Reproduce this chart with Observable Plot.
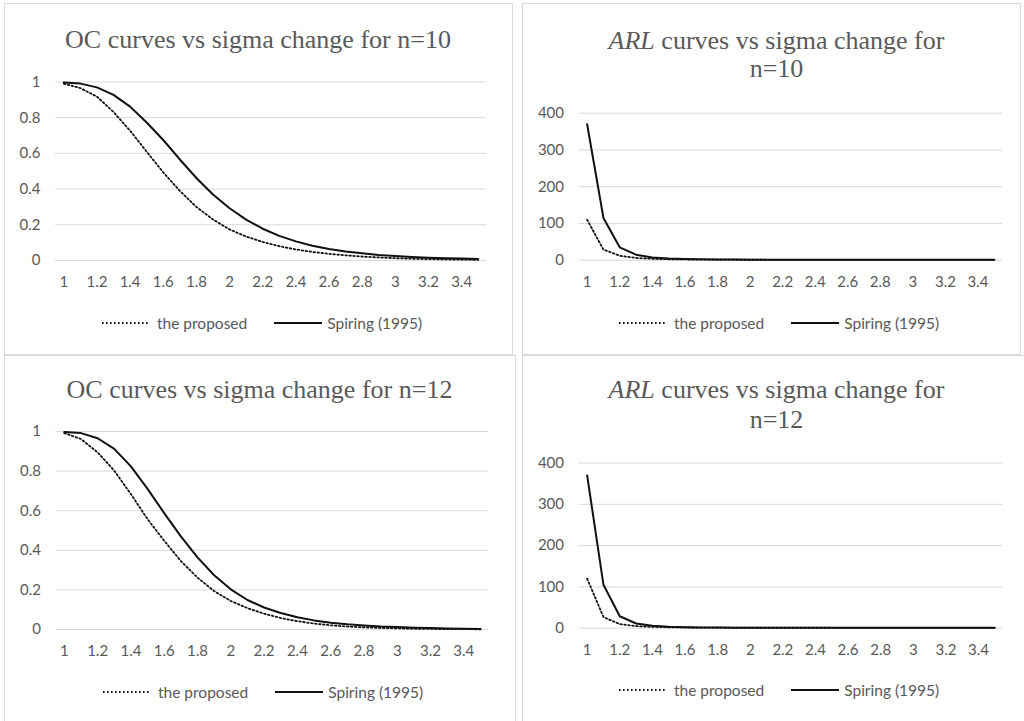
<!DOCTYPE html>
<html>
<head>
<meta charset="utf-8">
<script src="https://cdn.jsdelivr.net/npm/d3@7"></script>
<script src="https://cdn.jsdelivr.net/npm/@observablehq/plot@0.6"></script>
<style>
  html, body { margin: 0; padding: 0; background: #fff; }
  #page { position: relative; width: 1024px; height: 721px; overflow: hidden; background: #fff; }
  .panel { position: absolute; border: 1px solid #d9d9d9; box-sizing: border-box; background: #fff; }
  .title { position: absolute; width: 500px; text-align: center; font-family: "Liberation Serif", "Times New Roman", serif; font-size: 26px; line-height: 28.5px; color: #595959; white-space: nowrap; }
  .legend { position: absolute; display: flex; align-items: center; font-family: Lato, "Open Sans", sans-serif; font-size: 15.5px; color: #595959; white-space: nowrap; height: 20px; }
  .legend svg { display: block; }
  .plotbox { position: absolute; }
</style>
</head>
<body>
<div id="page"></div>
<script>
// ---- data ----
const sigma = [1.0,1.1,1.2,1.3,1.4,1.5,1.6,1.7,1.8,1.9,2.0,2.1,2.2,2.3,2.4,2.5,2.6,2.7,2.8,2.9,3.0,3.1,3.2,3.3,3.4,3.5];
const xTicks = [1,1.2,1.4,1.6,1.8,2,2.2,2.4,2.6,2.8,3,3.2,3.4];
const ocTicks = [0,0.2,0.4,0.6,0.8,1];
const arlTicks = [0,100,200,300,400];
const seriesNames = ["the proposed", "Spiring (1995)"];

const ocProposed10 = [0.991,0.966,0.918,0.832,0.727,0.610,0.494,0.390,0.300,0.230,0.174,0.134,0.104,0.080,0.062,0.048,0.037,0.029,0.022,0.017,0.013,0.010,0.008,0.006,0.005,0.004];
const ocSpiring10  = [0.997,0.991,0.970,0.928,0.862,0.773,0.675,0.566,0.462,0.370,0.293,0.229,0.178,0.138,0.107,0.083,0.064,0.050,0.040,0.031,0.025,0.020,0.016,0.013,0.011,0.009];
const arlProposed10 = [110,29,12.2,6,3.7,2.6,2.0,1.64,1.43,1.3,1.21,1.15,1.12,1.09,1.07,1.05,1.04,1.03,1.02,1.02,1.01,1.01,1.01,1.01,1.0,1.0];
const arlSpiring10  = [370,115,35,15,7.3,4.4,3.1,2.3,1.9,1.6,1.4,1.3,1.2,1.16,1.12,1.09,1.07,1.05,1.04,1.03,1.03,1.02,1.02,1.01,1.01,1.01];

const ocProposed12 = [0.992,0.962,0.895,0.802,0.684,0.557,0.448,0.346,0.262,0.194,0.144,0.108,0.080,0.058,0.042,0.030,0.021,0.015,0.011,0.008,0.006,0.004,0.003,0.002,0.002,0.001];
const ocSpiring12  = [0.997,0.992,0.966,0.912,0.824,0.710,0.588,0.470,0.364,0.274,0.203,0.149,0.111,0.083,0.062,0.046,0.034,0.026,0.020,0.015,0.012,0.009,0.007,0.005,0.004,0.003];
const arlProposed12 = [120,27,9.8,5.0,3.2,2.26,1.81,1.53,1.35,1.24,1.17,1.12,1.09,1.06,1.04,1.03,1.02,1.02,1.01,1.01,1.01,1.0,1.0,1.0,1.0,1.0];
const arlSpiring12  = [370,105,29,11.4,5.7,3.4,2.4,1.9,1.57,1.38,1.25,1.18,1.12,1.09,1.07,1.05,1.04,1.03,1.02,1.02,1.01,1.01,1.01,1.0,1.0,1.0];

const page = document.getElementById("page");
const fmt = d => String(+(+d).toFixed(1));
const DOTS = "1.6,2.4";

function rows(vals) { return sigma.map((s, i) => ({s, v: vals[i]})); }

function panel(cfg) {
  const b = document.createElement("div");
  b.className = "panel";
  Object.assign(b.style, {left: cfg.box[0] + "px", top: cfg.box[1] + "px", width: cfg.box[2] + "px", height: cfg.box[3] + "px"});
  page.appendChild(b);

  const t = document.createElement("div");
  t.className = "title";
  t.innerHTML = cfg.title;
  Object.assign(t.style, {left: (cfg.titleX - 250) + "px", top: cfg.titleTop + "px"});
  if (cfg.titleLH) t.style.lineHeight = cfg.titleLH + "px";
  page.appendChild(t);

  const [L, T, W, H] = cfg.svg;
  const [x0, x1, y0, y1] = cfg.area;
  const chart = Plot.plot({
    width: W, height: H,
    marginLeft: x0 - L, marginRight: L + W - x1,
    marginTop: y0 - T, marginBottom: T + H - y1,
    style: {fontFamily: "Lato, 'Open Sans', sans-serif", color: "#595959", background: "transparent", overflow: "visible"},
    x: {type: "linear", domain: [0.95, 3.55], label: null},
    y: {type: "linear", domain: cfg.yDomain, label: null},
    marks: [
      Plot.gridY(cfg.yTicks, {stroke: "#d9d9d9", strokeOpacity: 1, strokeWidth: 1}),
      Plot.axisY(cfg.yTicks, {tickSize: 0, tickPadding: 15, fontSize: 15, label: null, tickFormat: d => String(d)}),
      Plot.axisX(xTicks, {tickSize: 0, tickPadding: 16, fontSize: 15, label: null, tickFormat: fmt}),
      Plot.line(rows(cfg.proposed), {x: "s", y: "v", stroke: "#111", strokeWidth: 1.8, strokeDasharray: DOTS}),
      Plot.line(rows(cfg.spiring), {x: "s", y: "v", stroke: "#111", strokeWidth: 2})
    ]
  });
  const pb = document.createElement("div");
  pb.className = "plotbox";
  Object.assign(pb.style, {left: L + "px", top: T + "px"});
  pb.appendChild(chart);
  page.appendChild(pb);

  const lg = document.createElement("div");
  lg.className = "legend";
  Object.assign(lg.style, {left: cfg.legend[0] + "px", top: (cfg.legend[1] - 10) + "px"});
  lg.innerHTML =
    `<svg width="46" height="20"><line x1="0" x2="46" y1="10" y2="10" stroke="#111" stroke-width="1.8" stroke-dasharray="${DOTS}"/></svg>` +
    `<span style="margin-left:9px">${seriesNames[0]}</span>` +
    `<svg width="48" height="20" style="margin-left:27px"><line x1="0" x2="48" y1="10" y2="10" stroke="#111" stroke-width="2"/></svg>` +
    `<span style="margin-left:5px">${seriesNames[1]}</span>`;
  page.appendChild(lg);
}

panel({
  box: [4, 3, 509, 352], svg: [5, 4, 507, 300], area: [55, 486, 81.5, 260],
  title: "OC curves vs sigma change for n=10", titleX: 258, titleTop: 25.5,
  yDomain: [0, 1], yTicks: ocTicks, proposed: ocProposed10, spiring: ocSpiring10,
  legend: [102, 323]
});
panel({
  box: [522, 3, 499, 352], svg: [523, 4, 497, 300], area: [578.5, 1002, 112.7, 259.7],
  title: "<i>ARL</i> curves vs sigma change for<br>n=10", titleX: 776.5, titleTop: 26.5,
  yDomain: [0, 400], yTicks: arlTicks, proposed: arlProposed10, spiring: arlSpiring10,
  legend: [619, 323]
});
panel({
  box: [4, 355, 512, 400], svg: [5, 356, 510, 320], area: [55.5, 488.3, 431, 629],
  title: "OC curves vs sigma change for n=12", titleX: 259.5, titleTop: 375.5,
  yDomain: [0, 1], yTicks: ocTicks, proposed: ocProposed12, spiring: ocSpiring12,
  legend: [103, 692]
});
panel({
  box: [522, 355, 520, 400], svg: [523, 356, 501, 320], area: [578.5, 1002.5, 462.5, 627.7],
  title: "<i>ARL</i> curves vs sigma change for<br>n=12", titleX: 776.5, titleTop: 375, titleLH: 29.5,
  yDomain: [0, 400], yTicks: arlTicks, proposed: arlProposed12, spiring: arlSpiring12,
  legend: [619, 690]
});
</script>
</body>
</html>
